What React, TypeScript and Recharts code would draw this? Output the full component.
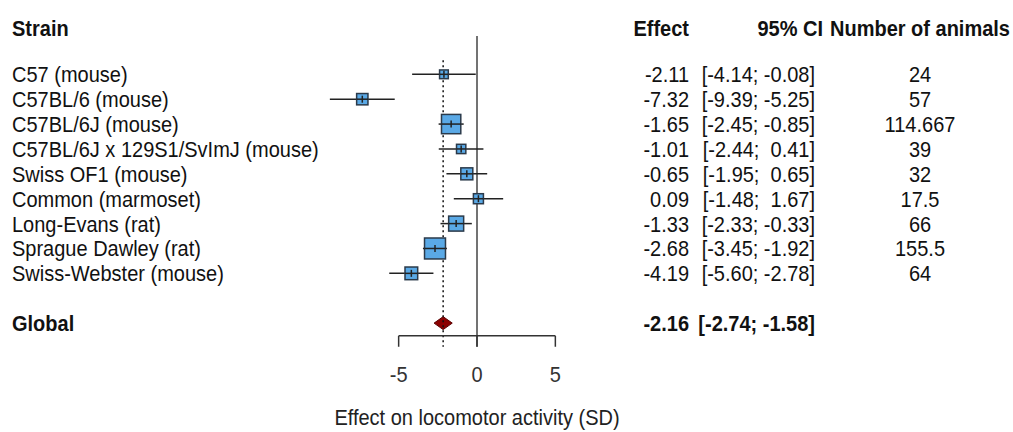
import React from 'react';
import { ComposedChart, Scatter, Area, XAxis, YAxis, ErrorBar, ReferenceLine } from 'recharts';

const strains = [
  'C57 (mouse)',
  'C57BL/6 (mouse)',
  'C57BL/6J (mouse)',
  'C57BL/6J x 129S1/SvImJ (mouse)',
  'Swiss OF1 (mouse)',
  'Common (marmoset)',
  'Long-Evans (rat)',
  'Sprague Dawley (rat)',
  'Swiss-Webster (mouse)',
];
const effects = [-2.11, -7.32, -1.65, -1.01, -0.65, 0.09, -1.33, -2.68, -4.19];
const lowers = [-4.14, -9.39, -2.45, -2.44, -1.95, -1.48, -2.33, -3.45, -5.6];
const uppers = [-0.08, -5.25, -0.85, 0.41, 0.65, 1.67, -0.33, -1.92, -2.78];
const animals = [24, 57, 114.667, 39, 32, 17.5, 66, 155.5, 64];
// study weights (%)
const weights = [4.4, 7.4, 21.5, 5.0, 8.3, 5.8, 13.0, 25.4, 9.3];

const globalEffect = -2.16;
const globalLower = -2.74;
const globalUpper = -1.58;

const xTicks = [-5, 0, 5];

const HEADER_ROW = -0.85;
const GLOBAL_ROW = 11;

const studies = strains.map((name, i) => ({
  name,
  x: effects[i],
  y: i + 1,
  err: [effects[i] - lowers[i], uppers[i] - effects[i]],
  w: weights[i],
}));

// diamond for the pooled estimate, drawn as a range area
const diamond = [
  { x: globalLower, range: [GLOBAL_ROW, GLOBAL_ROW] },
  { x: globalEffect, range: [GLOBAL_ROW - 0.26, GLOBAL_ROW + 0.26] },
  { x: globalUpper, range: [GLOBAL_ROW, GLOBAL_ROW] },
];

const fmt = (v: number) => v.toFixed(2);
const pad = (v: number) => fmt(v).padStart(5, ' ');
const ci = (lo: number, hi: number) => `[${pad(lo)}; ${pad(hi)}]`;

const FONT = '"Liberation Sans", Arial, sans-serif';

const Txt = ({ x, y, anchor = 'start', bold = false, fill = '#111', children }: any) => (
  <text
    transform={`translate(${x},${y}) scale(1,1.1)`}
    x={0}
    y={0}
    dy="0.36em"
    textAnchor={anchor}
    fontFamily={FONT}
    fontSize={20}
    fontWeight={bold ? 700 : 400}
    fill={fill}
    style={{ whiteSpace: 'pre' }}
  >
    {children}
  </text>
);

const TableTick = (props: any) => {
  const { y, payload } = props;
  const r = payload.value;
  if (r === HEADER_ROW) {
    return (
      <g>
        <Txt x={12} y={y} bold>Strain</Txt>
        <Txt x={689} y={y} anchor="end" bold>Effect</Txt>
        <Txt x={823} y={y} anchor="end" bold>95% CI</Txt>
        <Txt x={920} y={y} anchor="middle" bold>Number of animals</Txt>
      </g>
    );
  }
  if (r === GLOBAL_ROW) {
    return (
      <g>
        <Txt x={12} y={y} bold>Global</Txt>
        <Txt x={689} y={y} anchor="end" bold>{fmt(globalEffect)}</Txt>
        <Txt x={815} y={y} anchor="end" bold>{ci(globalLower, globalUpper)}</Txt>
      </g>
    );
  }
  const i = r - 1;
  return (
    <g>
      <Txt x={12} y={y}>{strains[i]}</Txt>
      <Txt x={689} y={y} anchor="end">{fmt(effects[i])}</Txt>
      <Txt x={815} y={y} anchor="end">{ci(lowers[i], uppers[i])}</Txt>
      <Txt x={920} y={y} anchor="middle">{String(animals[i])}</Txt>
    </g>
  );
};

const XTick = (props: any) => {
  const { x, payload } = props;
  return <Txt x={x} y={374} anchor="middle" fill="#333">{payload.value}</Txt>;
};

const StudyBox = (props: any) => {
  const { cx, cy, payload } = props;
  if (cx == null || cy == null) return null;
  const s = 4.16 * Math.sqrt(payload.w);
  const t = Math.min(3.5, s / 2);
  return (
    <g>
      <rect x={cx - s / 2} y={cy - s / 2} width={s} height={s} fill="#5AA9E6" stroke="#2B3A4A" strokeWidth={1.5} />
      <line x1={cx - s / 2} x2={cx + s / 2} y1={cy} y2={cy} stroke="#222" strokeWidth={1.5} />
      <line x1={cx} x2={cx} y1={cy - t} y2={cy + t} stroke="#222" strokeWidth={1.5} />
    </g>
  );
};

const rowTicks = [HEADER_ROW, ...studies.map((d) => d.y), GLOBAL_ROW];

export default function App() {
  return (
    <div style={{ position: 'absolute', left: 0, top: 0, width: 1013, height: 432, background: '#fff' }}>
      <ComposedChart
        width={1013}
        height={432}
        data={diamond}
        margin={{ top: 24.55, right: 379.3, bottom: 0, left: 319.3 }}
      >
        <XAxis
          type="number"
          dataKey="x"
          domain={[-10, 10]}
          ticks={xTicks}
          axisLine={false}
          tickLine={false}
          height={84}
          tick={<XTick />}
          interval={0}
          label={{
            content: () => (
              <Txt x={477} y={417} anchor="middle" fill="#222">
                Effect on locomotor activity (SD)
              </Txt>
            ),
          }}
        />
        <YAxis
          type="number"
          dataKey="y"
          domain={[-1, 12]}
          reversed
          ticks={rowTicks}
          interval={0}
          width={1}
          axisLine={false}
          tickLine={false}
          tick={<TableTick />}
        />
        <ReferenceLine
          segment={[{ x: 0, y: -0.54 }, { x: 0, y: 11.95 }]}
          stroke="#444"
          strokeWidth={1.5}
          ifOverflow="visible"
        />
        <ReferenceLine
          segment={[{ x: globalEffect, y: 0.43 }, { x: globalEffect, y: 11.95 }]}
          stroke="#111"
          strokeWidth={1.5}
          strokeDasharray="2 3"
          ifOverflow="visible"
        />
        <ReferenceLine
          segment={[{ x: xTicks[0], y: 11.51 }, { x: xTicks[xTicks.length - 1], y: 11.51 }]}
          stroke="#333"
          strokeWidth={1.5}
          ifOverflow="visible"
        />
        {xTicks.map((t) => (
          <ReferenceLine
            key={t}
            segment={[{ x: t, y: 11.51 }, { x: t, y: 11.95 }]}
            stroke="#333"
            strokeWidth={1.5}
            ifOverflow="visible"
          />
        ))}
        <Area
          type="linear"
          dataKey="range"
          stroke="#5A0000"
          strokeWidth={1}
          fill="#8B0000"
          fillOpacity={1}
          dot={false}
          activeDot={false}
          isAnimationActive={false}
        />
        <Scatter data={studies} shape={<StudyBox />} isAnimationActive={false}>
          <ErrorBar dataKey="err" direction="x" width={0} stroke="#222" strokeWidth={1.5} />
        </Scatter>
      </ComposedChart>
    </div>
  );
}
